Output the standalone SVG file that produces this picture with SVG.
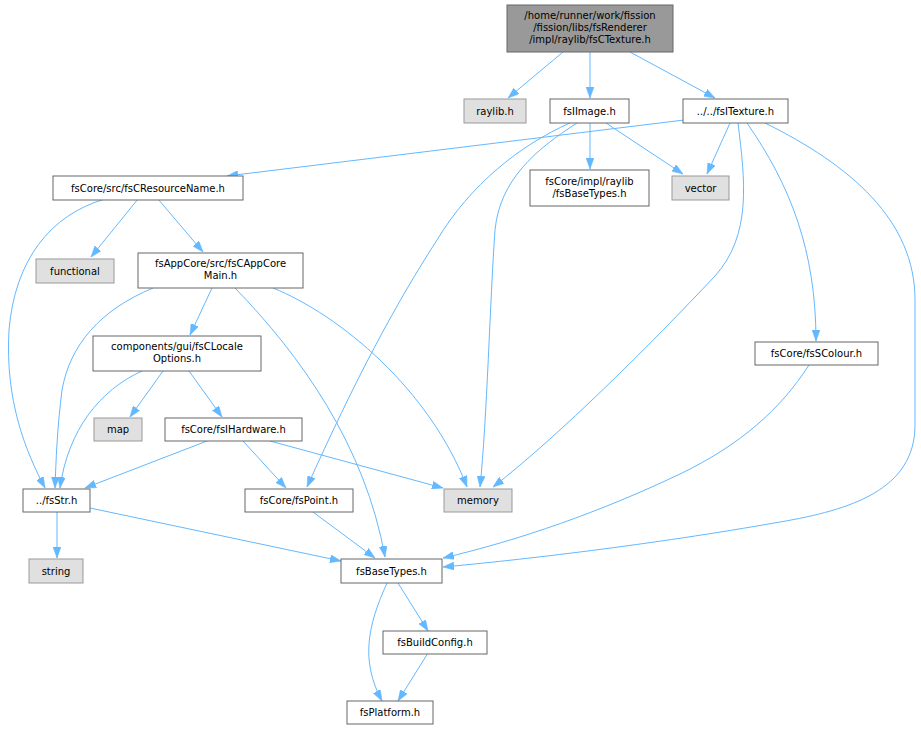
<svg xmlns="http://www.w3.org/2000/svg" width="921" height="729" viewBox="0 0 921 729">
<style>
.n{fill:#ffffff;stroke:#666666;stroke-width:1}
.g{fill:#e0e0e0;stroke:#999999;stroke-width:1}
.r{fill:#999999;stroke:#666666;stroke-width:1}
text{font-family:"DejaVu Sans","Liberation Sans",sans-serif;font-size:10px;fill:#000;text-anchor:middle}
.e path{fill:none;stroke:#63b8ff;stroke-width:1;marker-end:url(#ah)}
</style>
<defs>
<marker id="ah" markerUnits="userSpaceOnUse" markerWidth="11" markerHeight="8" refX="11" refY="4" orient="auto">
<path d="M0,0 L11,4 L0,8 z" fill="#63b8ff" stroke="#63b8ff" stroke-width="0.5"/>
</marker>
</defs>
<rect width="921" height="729" fill="#ffffff"/>
<g class="e" id="edges">
<path d="M563,52 L508,98"/>
<path d="M590,52 L590,98"/>
<path d="M630,52 L715,98"/>
<path d="M684,120 L227,176"/>
<path d="M730,123 L707,174"/>
<path d="M738,123 C745,180 752,235 715,276 C650,345 560,435 493,487"/>
<path d="M747,123 C790,185 816,250 816,341"/>
<path d="M765,123 C850,165 915,220 915,300 L915,425 C915,490 850,510 780,522 C650,545 520,560 443,567"/>
<path d="M590,123 L590,169"/>
<path d="M606,123 L683,174"/>
<path d="M577,123 C535,150 500,180 495,230 C490,300 487,420 480,487"/>
<path d="M570,123 C520,145 470,185 437,240 C395,305 355,380 307,487"/>
<path d="M138,199 L91,257"/>
<path d="M158,199 L203,252"/>
<path d="M105,199 C50,215 15,260 9,330 C5,400 25,450 45,488"/>
<path d="M153,288 C100,310 70,345 62,390 C57,430 56,460 55,488"/>
<path d="M212,288 L190,335"/>
<path d="M273,288 C340,315 430,390 467,487"/>
<path d="M235,288 C300,355 365,445 385,557"/>
<path d="M142,371 C100,390 68,430 60,488"/>
<path d="M163,371 L130,417"/>
<path d="M189,371 L222,417"/>
<path d="M207,441 L85,488"/>
<path d="M243,441 L286,488"/>
<path d="M270,441 L443,488"/>
<path d="M57,512 L57,558"/>
<path d="M90,508 L341,561"/>
<path d="M313,512 L375,558"/>
<path d="M809,365 C780,410 740,445 680,474 C600,512 520,540 443,558"/>
<path d="M398,583 L428,631"/>
<path d="M387,583 C368,625 360,660 382,701"/>
<path d="M428,653 L398,701"/>
</g>
<g id="root"><rect class="r" x="507" y="5" width="166" height="47"/><text x="590" y="19">/home/runner/work/fission</text><text x="590" y="31">/fission/libs/fsRenderer</text><text x="590" y="43">/impl/raylib/fsCTexture.h</text></g>
<g id="raylib"><rect class="g" x="464" y="99" width="62" height="24"/><text x="495" y="114.5">raylib.h</text></g>
<g id="fsIImage"><rect class="n" x="550" y="99" width="79" height="24"/><text x="589.5" y="114.5">fsIImage.h</text></g>
<g id="fsITexture"><rect class="n" x="683" y="99" width="105" height="24"/><text x="735.5" y="114.5">../../fsITexture.h</text></g>
<g id="fsCResourceName"><rect class="n" x="53" y="176" width="190" height="24"/><text x="148" y="191.5">fsCore/src/fsCResourceName.h</text></g>
<g id="vector"><rect class="g" x="672" y="176" width="57" height="24"/><text x="700.5" y="191.5">vector</text></g>
<g id="implBaseTypes"><rect class="n" x="530" y="170" width="119" height="36"/><text x="589.5" y="185">fsCore/impl/raylib</text><text x="589.5" y="197">/fsBaseTypes.h</text></g>
<g id="functional"><rect class="g" x="36" y="259" width="78" height="24"/><text x="75" y="274.5">functional</text></g>
<g id="fsCAppCoreMain"><rect class="n" x="138" y="253" width="165" height="35"/><text x="220.5" y="267">fsAppCore/src/fsCAppCore</text><text x="220.5" y="279">Main.h</text></g>
<g id="fsCLocaleOptions"><rect class="n" x="93" y="336" width="168" height="35"/><text x="177" y="350">components/gui/fsCLocale</text><text x="177" y="362">Options.h</text></g>
<g id="fsSColour"><rect class="n" x="755" y="342" width="123" height="23"/><text x="816.5" y="357">fsCore/fsSColour.h</text></g>
<g id="map"><rect class="g" x="94" y="418" width="48" height="23"/><text x="118" y="433">map</text></g>
<g id="fsIHardware"><rect class="n" x="165" y="418" width="137" height="23"/><text x="233.5" y="433">fsCore/fsIHardware.h</text></g>
<g id="fsStr"><rect class="n" x="23" y="489" width="67" height="23"/><text x="56.5" y="504">../fsStr.h</text></g>
<g id="fsPoint"><rect class="n" x="245" y="489" width="108" height="23"/><text x="299" y="504">fsCore/fsPoint.h</text></g>
<g id="memory"><rect class="g" x="444" y="489" width="68" height="23"/><text x="478" y="504">memory</text></g>
<g id="string"><rect class="g" x="29" y="559" width="54" height="24"/><text x="56" y="574.5">string</text></g>
<g id="fsBaseTypes"><rect class="n" x="341" y="559" width="101" height="24"/><text x="391.5" y="574.5">fsBaseTypes.h</text></g>
<g id="fsBuildConfig"><rect class="n" x="383" y="631" width="104" height="23"/><text x="435" y="646">fsBuildConfig.h</text></g>
<g id="fsPlatform"><rect class="n" x="347" y="701" width="86" height="23"/><text x="390" y="716">fsPlatform.h</text></g>
</svg>
